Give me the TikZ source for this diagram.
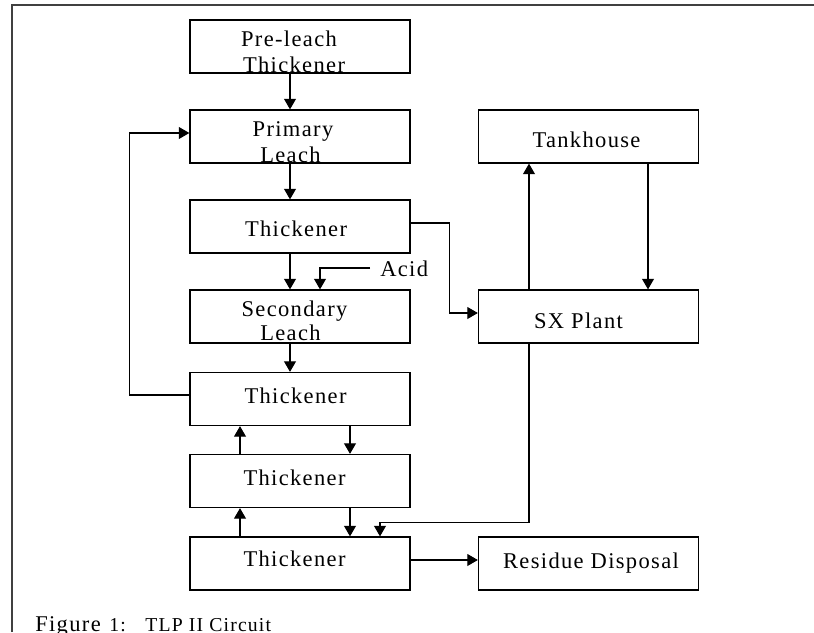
\documentclass[tikz,border=0pt]{standalone}
\usepackage{fontspec}
\setmainfont{Liberation Serif}[LetterSpace=6]
\usetikzlibrary{arrows.meta,calc}

\begin{document}
\begin{tikzpicture}[x=0.025cm,y=-0.025cm,
    box/.style={draw=black,line width=0.9pt,minimum width=5.5cm,minimum height=1.325cm,inner sep=0pt},
    txt/.style={anchor=base,inner sep=0pt,font=\fontsize{16}{19}\selectfont},
    flow/.style={draw=black,line width=0.75pt,-{Triangle[length=7.5pt,width=8.5pt]}}]
    \useasboundingbox (0,0) rectangle (814,632);
    \draw [black!75,line width=1.2pt] (12,632) -- (12,5) -- (814,5);
    % boxes
    \node [box] (pre) at (300,46.5) {};
    \node [box] (prim) at (300,136.5) {};
    \node [box] (th1) at (300,226.5) {};
    \node [box] (sec) at (300,316.5) {};
    \node [box] (th2) at (300,399) {};
    \node [box] (th3) at (300,481) {};
    \node [box] (th4) at (300,563.5) {};
    \node [box] (tank) at (588.5,136.5) {};
    \node [box] (sx) at (588.5,316.5) {};
    \node [box] (res) at (588.5,563.5) {};
    % texts
    \node [txt] (pretxta) at (289,46) {Pre-leach};
    \node [txt] (pretxtb) at (294,72) {Thickener};
    \node [txt] (primtxta) at (293,136) {Primary};
    \node [txt] (primtxtb) at (290.5,162) {Leach};
    \node [txt] (th1txt) at (296,236.7) {Thickener};
    \node [txt] (sectxta) at (294.5,316.7) {Secondary};
    \node [txt] (sectxtb) at (290.5,340.7) {Leach};
    \node [txt] (th2txt) at (295.5,403.3) {Thickener};
    \node [txt] (th3txt) at (294.5,485) {Thickener};
    \node [txt] (th4txt) at (294.5,566.7) {Thickener};
    \node [txt] (tanktxt) at (586.5,147) {Tankhouse};
    \node [txt] (sxtxt) at (578.5,328) {SX Plant};
    \node [txt] (restxt) at (591,568.3) {Residue Disposal};
    \node [txt,anchor=base west] (acid) at (380,276.7) {Acid};
    \node [anchor=base west,inner sep=0pt,font=\fontsize{16}{19}\selectfont] (figcap) at (35,631) {Figure};
    \node [anchor=base west,inner sep=0pt,font=\fontsize{14}{16}\selectfont] (figtxt) at (109,631) {1:\hspace{14pt}TLP II Circuit};
    % columns
    \coordinate (colA) at (290,0);
    \coordinate (colB) at (240,0);
    \coordinate (colC) at (350,0);
    \coordinate (colD) at (320,0);
    \coordinate (colE) at (380,0);
    \coordinate (colF) at (529,0);
    \coordinate (colG) at (648,0);
    \coordinate (acidin) at (370,268);
    % connectors
    \draw [flow] (pre.south -| colA) -- (prim.north -| colA);
    \draw [flow] (prim.south -| colA) -- (th1.north -| colA);
    \draw [flow] (th1.south -| colA) -- (sec.north -| colA);
    \draw [flow] (sec.south -| colA) -- (th2.north -| colA);
    \draw [flow] (acidin) -| (sec.north -| colD);
    \draw [flow] ($(th1.east)+(0,-3.5)$) -- ++(39,0) |- ($(sx.west)+(0,-3.5)$);
    \draw [flow] ($(th2.west)+(0,-4)$) -- ++(-60,0) |- ($(prim.west)+(0,-3.5)$);
    \draw [flow] (sx.north -| colF) -- (tank.south -| colF);
    \draw [flow] (tank.south -| colG) -- (sx.north -| colG);
    \draw [flow] (th3.north -| colB) -- (th2.south -| colB);
    \draw [flow] (th2.south -| colC) -- (th3.north -| colC);
    \draw [flow] (th4.north -| colB) -- (th3.south -| colB);
    \draw [flow] (th3.south -| colC) -- (th4.north -| colC);
    \draw [flow] (sx.south -| colF) -- ++(0,179) -| (th4.north -| colE);
    \draw [flow] ($(th4.east)+(0,-3.5)$) -- ($(res.west)+(0,-3.5)$);
\end{tikzpicture}
\end{document}
